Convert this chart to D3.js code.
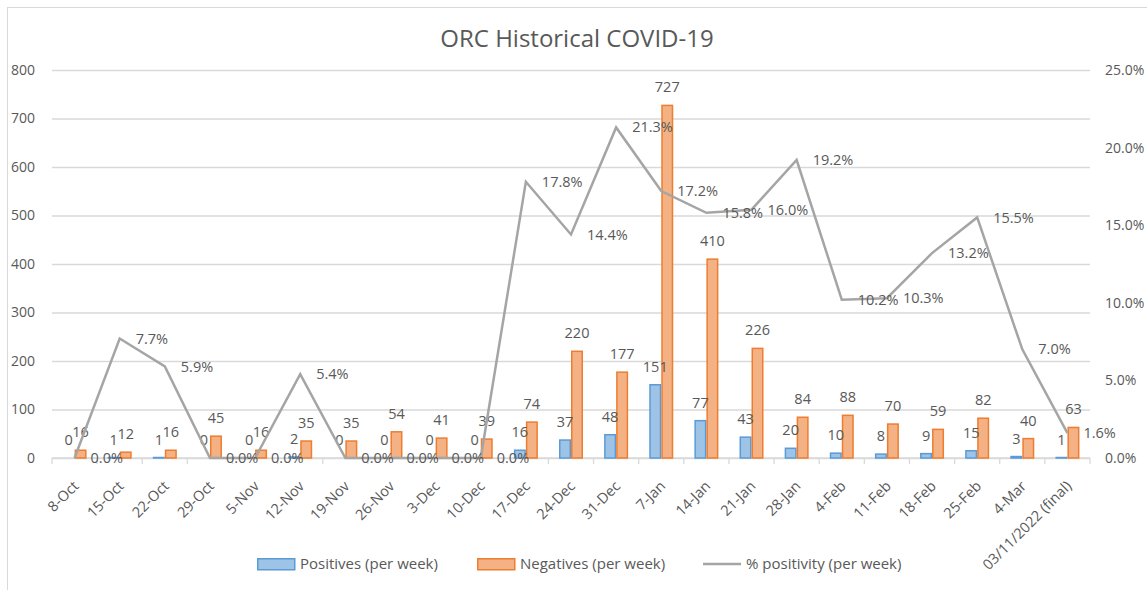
<!DOCTYPE html>
<html>
<head>
<meta charset="utf-8">
<script src="https://cdn.jsdelivr.net/npm/d3@7"></script>
<style>
  body { margin: 0; background: #fff; }
  text { font-family: "Open Sans", sans-serif; fill: #595959; }
</style>
</head>
<body>
<div id="chart"></div>
<script>
const categories = ["8-Oct", "15-Oct", "22-Oct", "29-Oct", "5-Nov", "12-Nov", "19-Nov", "26-Nov",
  "3-Dec", "10-Dec", "17-Dec", "24-Dec", "31-Dec", "7-Jan", "14-Jan", "21-Jan", "28-Jan",
  "4-Feb", "11-Feb", "18-Feb", "25-Feb", "4-Mar", "03/11/2022 (final)"];
const positives = [0, 1, 1, 0, 0, 2, 0, 0, 0, 0, 16, 37, 48, 151, 77, 43, 20, 10, 8, 9, 15, 3, 1];
const negatives = [16, 12, 16, 45, 16, 35, 35, 54, 41, 39, 74, 220, 177, 727, 410, 226, 84, 88, 70, 59, 82, 40, 63];
const positivity = [0.0, 7.7, 5.9, 0.0, 0.0, 5.4, 0.0, 0.0, 0.0, 0.0, 17.8, 14.4, 21.3, 17.2, 15.8, 16.0, 19.2, 10.2, 10.3, 13.2, 15.5, 7.0, 1.6];
const leftTicks = [0, 100, 200, 300, 400, 500, 600, 700, 800];
const rightTicks = [0, 5, 10, 15, 20, 25];
const seriesNames = ["Positives (per week)", "Negatives (per week)", "% positivity (per week)"];

const W = 1147, H = 590;
const plot = { left: 52, right: 1090, top: 70, bottom: 458 };
const blue = { fill: "#9dc3e6", stroke: "#5b9bd5" },
  orange = { fill: "#f4b183", stroke: "#ed7d31" },
  lineColor = "#a5a5a5",
  gridColor = "#d9d9d9";

const svg = d3.select("#chart").append("svg").attr("width", W).attr("height", H);

// chart frame
svg.append("rect")
  .attr("x", 7.5).attr("y", 7.5)
  .attr("width", W + 20).attr("height", H + 20)
  .attr("fill", "none").attr("stroke", gridColor);

svg.append("text")
  .attr("x", 577).attr("y", 47)
  .attr("text-anchor", "middle")
  .style("font-size", "24px")
  .text("ORC Historical COVID-19");

const data = categories.map((c, i) => ({
  cat: c, pos: positives[i], neg: negatives[i], pct: positivity[i]
}));

const x0 = d3.scaleBand().domain(categories).range([plot.left, plot.right]).padding(0);
const x1 = d3.scaleBand().domain(["pos", "neg"]).range([-12, 12]).padding(0);
const y = d3.scaleLinear().domain([0, 800]).range([plot.bottom, plot.top]);
const y2 = d3.scaleLinear().domain([0, 25]).range([plot.bottom, plot.top]);
const cx = (c) => x0(c) + x0.bandwidth() / 2;

// gridlines + left axis
svg.append("g")
  .attr("transform", "translate(" + plot.left + ",0)")
  .call(d3.axisLeft(y).tickValues(leftTicks).tickSize(-(plot.right - plot.left)).tickPadding(17))
  .call((g) => g.select(".domain").remove())
  .call((g) => g.selectAll("line").attr("stroke", gridColor).attr("stroke-width", 1.3))
  .call((g) => g.selectAll("text").style("font-size", "14px").attr("fill", "#595959"));

// right axis
svg.append("g")
  .attr("transform", "translate(" + plot.right + ",0)")
  .call(d3.axisRight(y2).tickValues(rightTicks).tickSize(0).tickPadding(15)
    .tickFormat((d) => d.toFixed(1) + "%"))
  .call((g) => g.select(".domain").remove())
  .call((g) => g.selectAll("text").style("font-size", "14px").attr("fill", "#595959"));

// x axis line, boundary ticks and rotated labels
const xg = svg.append("g");
xg.append("line")
  .attr("x1", plot.left).attr("x2", plot.right)
  .attr("y1", plot.bottom).attr("y2", plot.bottom)
  .attr("stroke", gridColor).attr("stroke-width", 1.3);
xg.selectAll(".tick")
  .data(categories.concat([null]))
  .join("line")
  .attr("x1", (c) => (c === null ? plot.right : x0(c)))
  .attr("x2", (c) => (c === null ? plot.right : x0(c)))
  .attr("y1", plot.bottom).attr("y2", plot.bottom + 6)
  .attr("stroke", gridColor).attr("stroke-width", 1.3);
xg.selectAll(".xlab")
  .data(categories)
  .join("text")
  .attr("class", "xlab")
  .attr("text-anchor", "end")
  .attr("transform", (c) => "translate(" + (cx(c) + 5) + "," + (plot.bottom + 29) + ") rotate(-45)")
  .style("font-size", "14.5px")
  .text((c) => c);

// bars
const groups = svg.append("g").selectAll("g")
  .data(data)
  .join("g")
  .attr("transform", (d) => "translate(" + cx(d.cat) + ",0)");

groups.selectAll("rect")
  .data((d) => [
    { key: "pos", value: d.pos, col: blue },
    { key: "neg", value: d.neg, col: orange }
  ])
  .join("rect")
  .attr("x", (d) => x1(d.key) + 0.75)
  .attr("y", (d) => y(d.value))
  .attr("width", x1.bandwidth() - 1.5)
  .attr("height", (d) => y(0) - y(d.value))
  .attr("fill", (d) => d.col.fill)
  .attr("stroke", (d) => d.col.stroke)
  .attr("stroke-width", 1.5);

// line
svg.append("path")
  .datum(data)
  .attr("fill", "none")
  .attr("stroke", lineColor)
  .attr("stroke-width", 2.5)
  .attr("stroke-linejoin", "miter")
  .attr("d", d3.line().x((d) => cx(d.cat)).y((d) => y2(d.pct)));

// bar labels
groups.selectAll(".barlab")
  .data((d) => [
    { key: "pos", value: d.pos },
    { key: "neg", value: d.neg }
  ])
  .join("text")
  .attr("class", "barlab")
  .attr("text-anchor", "middle")
  .attr("x", (d) => x1(d.key) + x1.bandwidth() / 2)
  .attr("y", (d) => y(d.value) - 13)
  .style("font-size", "14.5px")
  .text((d) => d.value);

// percentage labels, to the right of each point
svg.append("g").selectAll("text")
  .data(data)
  .join("text")
  .attr("x", (d) => cx(d.cat) + 16)
  .attr("y", (d) => y2(d.pct))
  .attr("dy", "0.35em")
  .style("font-size", "14.5px")
  .text((d) => d.pct.toFixed(1) + "%");

// legend
const legendX = [257, 477, 703];
const legend = svg.append("g").selectAll("g")
  .data(seriesNames)
  .join("g")
  .attr("transform", (d, i) => "translate(" + legendX[i] + ",558)");
legend.filter((d, i) => i < 2)
  .append("rect")
  .attr("x", 0.75).attr("y", 0.75)
  .attr("width", 37).attr("height", 11)
  .attr("fill", (d, i) => (i === 0 ? blue.fill : orange.fill))
  .attr("stroke", (d, i) => (i === 0 ? blue.stroke : orange.stroke))
  .attr("stroke-width", 1.5);
legend.filter((d, i) => i === 2)
  .append("line")
  .attr("x1", 0).attr("x2", 38)
  .attr("y1", 6).attr("y2", 6)
  .attr("stroke", lineColor).attr("stroke-width", 2.5);
legend.append("text")
  .attr("x", 43).attr("y", 6)
  .attr("dy", "0.35em")
  .style("font-size", "15px")
  .text((d) => d);
</script>
</body>
</html>
